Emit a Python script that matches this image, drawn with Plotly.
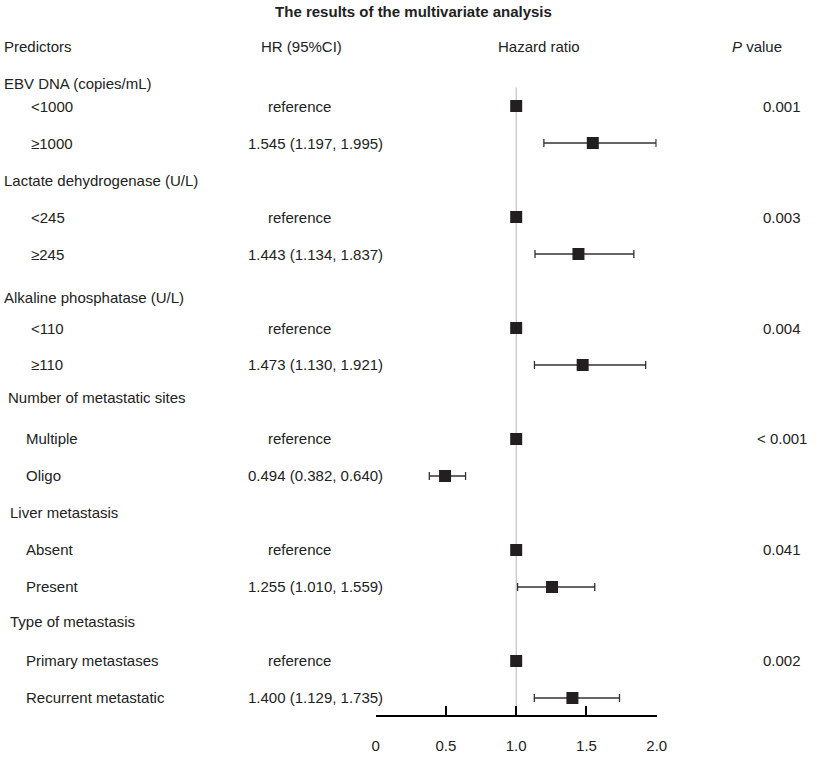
import plotly.graph_objects as go

# data
groups = ["EBV DNA (copies/mL)", "Lactate dehydrogenase (U/L)", "Alkaline phosphatase (U/L)",
          "Number of metastatic sites", "Liver metastasis", "Type of metastasis"]
ref_levels = ["<1000", "<245", "<110", "Multiple", "Absent", "Primary metastases"]
cmp_levels = ["≥1000", "≥245", "≥110", "Oligo", "Present", "Recurrent metastatic"]
hr = [1.545, 1.443, 1.473, 0.494, 1.255, 1.400]
ci_low = [1.197, 1.134, 1.130, 0.382, 1.010, 1.129]
ci_high = [1.995, 1.837, 1.921, 0.640, 1.559, 1.735]
p_values = ["0.001", "0.003", "0.004", "< 0.001", "0.041", "0.002"]
tick_vals = [0, 0.5, 1.0, 1.5, 2.0]
tick_text = ["0", "0.5", "1.0", "1.5", "2.0"]

W, H = 827, 757
FONT = "Liberation Sans, Arial, sans-serif"
TXT = "#222222"
MARK = "#231f20"

# layout helpers (pixel columns -> paper x)
def px(x):
    return x / W

header_x = [0, 0, 0, 4, 6, 6]
level_x = [27, 27, 27, 22, 22, 22]
header_shift = [-14, 0, -6, 4, 0, 2]

ref_rows = [3 * g + 1 for g in range(len(groups))]
cmp_rows = [3 * g + 2 for g in range(len(groups))]

fig = go.Figure()

# estimates with 95% CI
fig.add_trace(go.Scatter(
    x=hr, y=cmp_rows, mode="markers",
    marker=dict(symbol="square", size=12, color=MARK),
    error_x=dict(type="data", symmetric=False,
                 array=[c - v for v, c in zip(hr, ci_high)],
                 arrayminus=[v - c for v, c in zip(hr, ci_low)],
                 color="#333333", thickness=1.3, width=4),
    cliponaxis=False, showlegend=False, hoverinfo="skip"
))
# reference categories sit on HR = 1
fig.add_trace(go.Scatter(
    x=[1.0] * len(ref_rows), y=ref_rows, mode="markers",
    marker=dict(symbol="square", size=12, color=MARK),
    cliponaxis=False, showlegend=False, hoverinfo="skip"
))

fig.add_shape(type="line", xref="x", yref="y", x0=1, x1=1, y0=0.5, y1=17.46,
              line=dict(color="#b5b5b5", width=1), layer="below")

ann = []
def text(x, y, s, anchor="left", yshift=0):
    ann.append(dict(x=px(x), y=y, xref="paper", yref="y", text=s, showarrow=False,
                    xanchor=anchor, yanchor="middle", yshift=yshift,
                    font=dict(family=FONT, size=15, color=TXT)))

# column headers
text(-2, -0.6, "Predictors")
text(303, -0.6, "HR (95%CI)", "center")
text(544, -0.6, "Hazard ratio", "center")
text(766, -0.6, "<i>P</i> value", "center")

for g in range(len(groups)):
    text(header_x[g] - 2, 3 * g, groups[g], yshift=header_shift[g])
    text(level_x[g] - 2, ref_rows[g], ref_levels[g])
    text(level_x[g] - 2, cmp_rows[g], cmp_levels[g])
    text(301, ref_rows[g], "reference", "center")
    text(317, cmp_rows[g], f"{hr[g]:.3f} ({ci_low[g]:.3f}, {ci_high[g]:.3f})", "center")
    text(791, ref_rows[g], p_values[g], "center")

fig.update_layout(
    width=W, height=H,
    paper_bgcolor="white", plot_bgcolor="white",
    margin=dict(l=0, r=0, t=40, b=42),
    title=dict(text="<b>The results of the multivariate analysis</b>", x=0.5, xanchor="center",
               y=1 - 12 / H, yanchor="middle", font=dict(family=FONT, size=15, color=TXT)),
    annotations=ann,
    xaxis=dict(domain=[px(378), px(664)], range=[0, 2], showgrid=False, zeroline=False,
               showline=True, linecolor="black", linewidth=2,
               ticks="inside", ticklen=9, tickwidth=2, tickcolor="black",
               tickvals=tick_vals, ticktext=tick_text, ticklabelstandoff=16,
               tickfont=dict(family=FONT, size=15, color=TXT)),
    yaxis=dict(range=[17.46, -0.784], visible=False),
)

fig.write_html(
    "out.html",
    config={"displayModeBar": False},
    post_script="document.body.style.margin='0';document.body.style.overflow='hidden';"
                "document.documentElement.style.overflow='hidden';",
)
